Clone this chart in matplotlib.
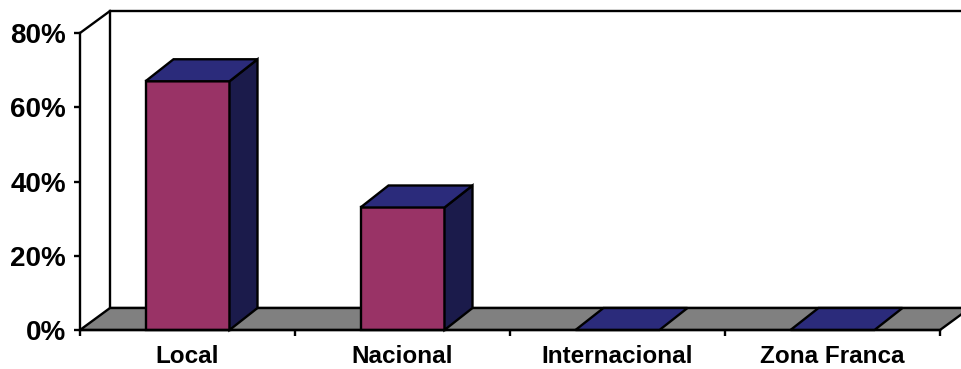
import matplotlib.pyplot as plt
from matplotlib.patches import Polygon, Rectangle

categories = ["Local", "Nacional", "Internacional", "Zona Franca"]
values = [67, 33, 0, 0]
yticks = [0, 20, 40, 60, 80]

plt.rcParams['font.family'] = ['Liberation Sans', 'DejaVu Sans']
plt.rcParams['font.weight'] = 'bold'

fig = plt.figure(figsize=(9.61, 3.69), dpi=100)
ax = fig.add_axes([80 / 961, 39 / 369, 860 / 961, 297 / 369])
ax.set_xlim(0, len(categories))
ax.set_ylim(0, 80)

# depth of the 3d box, in data units
DX = 30 / 215
DY = 22 / 297 * 80
BW = 84 / 215
BDX = 28 / 215

front = '#993366'
top = '#2B2B7B'
side = '#1B1B4B'
lw = 1.7

n = len(categories)
# back wall + left wall
ax.add_patch(Polygon([(DX, DY), (n + DX + 0.3, DY), (n + DX + 0.3, 80 + DY), (DX, 80 + DY)],
                     closed=True, fc='white', ec='black', lw=lw, clip_on=False, zorder=1))
ax.plot([0, DX], [80, 80 + DY], color='black', lw=lw, clip_on=False, zorder=1)
# floor
ax.add_patch(Polygon([(0, 0), (n, 0), (n + DX, DY), (DX, DY)],
                     closed=True, fc='#808080', ec='black', lw=lw, clip_on=False, zorder=2))

for i, v in enumerate(values):
    x0 = i + 0.5 - BW / 2
    x1 = x0 + BW
    if v > 0:
        ax.add_patch(Rectangle((x0, 0), BW, v, fc=front, ec='black', lw=lw,
                               clip_on=False, zorder=3))
        ax.add_patch(Polygon([(x1, 0), (x1 + BDX, DY), (x1 + BDX, v + DY), (x1, v)],
                             closed=True, fc=side, ec='black', lw=lw, clip_on=False, zorder=3))
    ax.add_patch(Polygon([(x0, v), (x1, v), (x1 + BDX, v + DY), (x0 + BDX, v + DY)],
                         closed=True, fc=top, ec='black', lw=lw, clip_on=False, zorder=3))

for s in ['top', 'right']:
    ax.spines[s].set_visible(False)
ax.spines['left'].set_linewidth(lw)
ax.spines['bottom'].set_linewidth(lw)
ax.spines['left'].set_zorder(4)
ax.spines['bottom'].set_zorder(4)
ax.patch.set_visible(False)

ax.set_yticks(yticks)
ax.set_yticklabels([f"{t}%" for t in yticks], fontsize=20, fontweight='bold')
ax.tick_params(axis='y', length=4, width=lw, pad=6)

ax.set_xticks(range(n + 1))
ax.set_xticklabels([])
ax.set_xticks([i + 0.5 for i in range(n)], minor=True)
ax.set_xticklabels(categories, minor=True, fontsize=17.5, fontweight='bold')
ax.tick_params(axis='x', which='major', length=4, width=lw)
ax.tick_params(axis='x', which='minor', length=0, pad=11)

fig.savefig("out.png", dpi=100)
